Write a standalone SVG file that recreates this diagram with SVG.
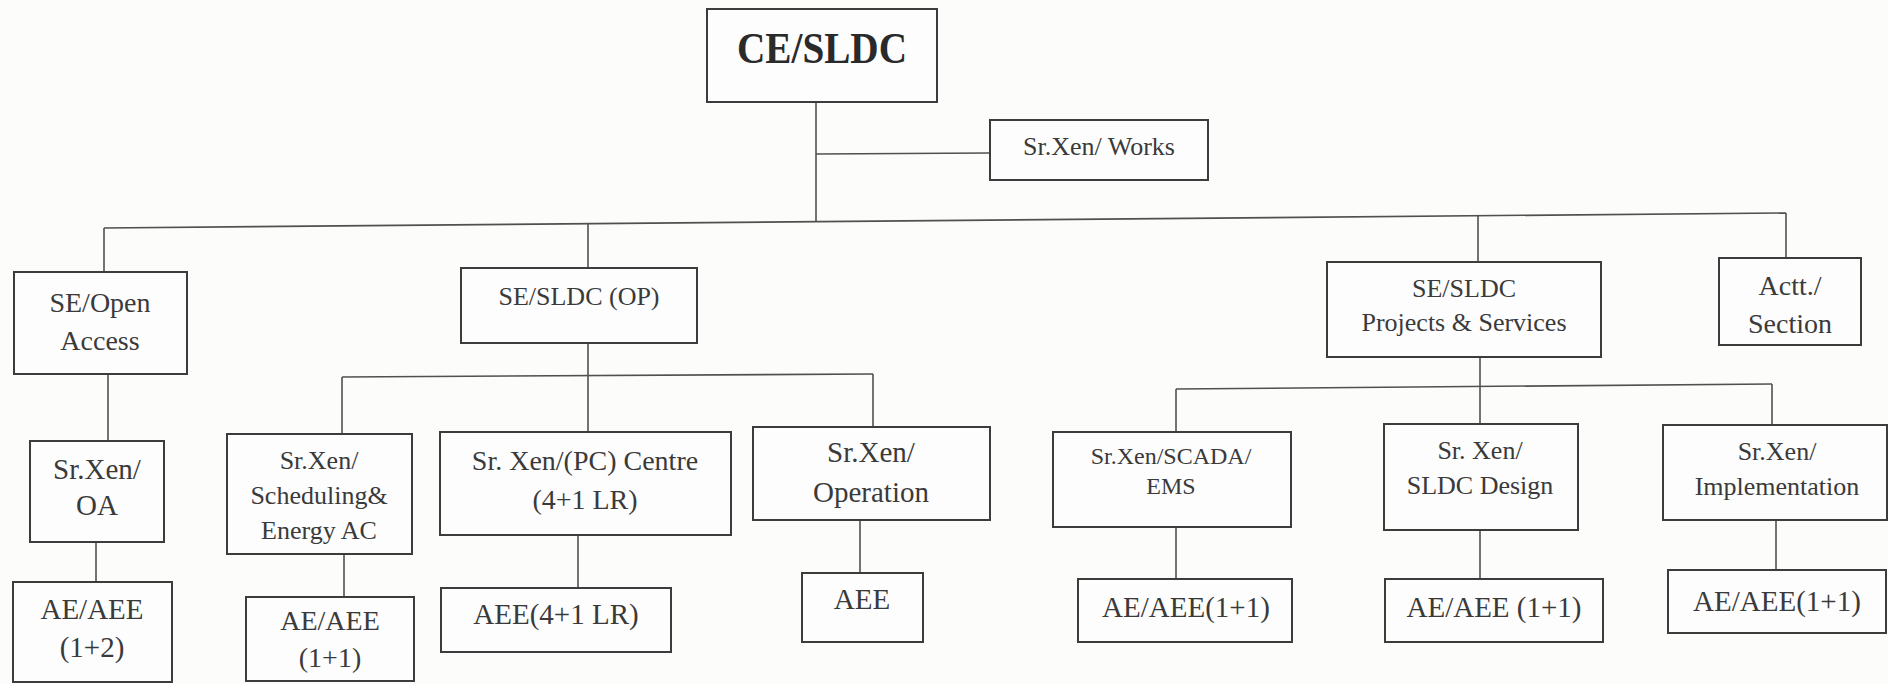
<svg xmlns="http://www.w3.org/2000/svg" width="1888" height="684" viewBox="0 0 1888 684">
<style>
.bg{fill:#fcfcfb}
.box{fill:#fdfdfd;stroke:#3c3c3c;stroke-width:2}
.ln{stroke:#505050;stroke-width:1.6;fill:none}
text{font-family:"Liberation Serif","Times New Roman",serif;fill:#3a3a3a;text-anchor:middle}
.t26{font-size:26px}.t28{font-size:28px}.t29{font-size:29px}.t24{font-size:24px}
.big{font-size:44px;font-weight:bold;fill:#2a2a2a}
</style>
<rect class="bg" x="0" y="0" width="1888" height="684"/>
<g id="connectors">
<line class="ln" x1="816" y1="102" x2="816" y2="222"/>
<line class="ln" x1="816" y1="154" x2="990" y2="153"/>
<line class="ln" x1="104" y1="228" x2="1786" y2="213"/>
<line class="ln" x1="104" y1="228" x2="104" y2="272"/>
<line class="ln" x1="588" y1="223.5" x2="588" y2="268"/>
<line class="ln" x1="1478" y1="215.7" x2="1478" y2="262"/>
<line class="ln" x1="1786" y1="213" x2="1786" y2="258"/>
<line class="ln" x1="108" y1="374" x2="108" y2="441"/>
<line class="ln" x1="96" y1="542" x2="96" y2="582"/>
<line class="ln" x1="588" y1="343" x2="588" y2="432"/>
<line class="ln" x1="342" y1="377" x2="873" y2="374"/>
<line class="ln" x1="342" y1="377" x2="342" y2="434"/>
<line class="ln" x1="873" y1="374" x2="873" y2="427"/>
<line class="ln" x1="344" y1="554" x2="344" y2="597"/>
<line class="ln" x1="578" y1="535" x2="578" y2="588"/>
<line class="ln" x1="860" y1="520" x2="860" y2="573"/>
<line class="ln" x1="1480" y1="357" x2="1480" y2="424"/>
<line class="ln" x1="1176" y1="389" x2="1772" y2="384"/>
<line class="ln" x1="1176" y1="389" x2="1176" y2="432"/>
<line class="ln" x1="1772" y1="384" x2="1772" y2="425"/>
<line class="ln" x1="1176" y1="527" x2="1176" y2="579"/>
<line class="ln" x1="1480" y1="530" x2="1480" y2="579"/>
<line class="ln" x1="1776" y1="520" x2="1776" y2="570"/>
</g>
<g id="ce"><rect class="box" x="707" y="9" width="230" height="93"/><text class="big" x="822" y="63" textLength="170" lengthAdjust="spacingAndGlyphs">CE/SLDC</text></g>
<g id="works"><rect class="box" x="990" y="120" width="218" height="60"/><text class="t26" x="1099" y="155">Sr.Xen/ Works</text></g>
<g id="se-oa"><rect class="box" x="14" y="272" width="173" height="102"/><text class="t28" x="100" y="312">SE/Open</text><text class="t28" x="100" y="350">Access</text></g>
<g id="se-op"><rect class="box" x="461" y="268" width="236" height="75"/><text class="t26" x="579" y="305">SE/SLDC (OP)</text></g>
<g id="se-ps"><rect class="box" x="1327" y="262" width="274" height="95"/><text class="t26" x="1464" y="297">SE/SLDC</text><text class="t26" x="1464" y="331">Projects &amp; Services</text></g>
<g id="actt"><rect class="box" x="1719" y="258" width="142" height="87"/><text class="t28" x="1790" y="295">Actt./</text><text class="t28" x="1790" y="333">Section</text></g>
<g id="xen-oa"><rect class="box" x="30" y="441" width="134" height="101"/><text class="t29" x="97" y="479">Sr.Xen/</text><text class="t29" x="97" y="515">OA</text></g>
<g id="ae-oa"><rect class="box" x="13" y="582" width="159" height="100"/><text class="t29" x="92" y="619">AE/AEE</text><text class="t29" x="92" y="657">(1+2)</text></g>
<g id="xen-sch"><rect class="box" x="227" y="434" width="185" height="120"/><text class="t26" x="319" y="469">Sr.Xen/</text><text class="t26" x="319" y="504">Scheduling&amp;</text><text class="t26" x="319" y="539">Energy AC</text></g>
<g id="ae-sch"><rect class="box" x="246" y="597" width="168" height="84"/><text class="t28" x="330" y="630">AE/AEE</text><text class="t28" x="330" y="667">(1+1)</text></g>
<g id="xen-pc"><rect class="box" x="440" y="432" width="291" height="103"/><text class="t28" x="585" y="470">Sr. Xen/(PC) Centre</text><text class="t28" x="585" y="509">(4+1 LR)</text></g>
<g id="aee-pc"><rect class="box" x="441" y="588" width="230" height="64"/><text class="t29" x="556" y="624">AEE(4+1 LR)</text></g>
<g id="xen-op"><rect class="box" x="753" y="427" width="237" height="93"/><text class="t29" x="871" y="462">Sr.Xen/</text><text class="t29" x="871" y="502">Operation</text></g>
<g id="aee-op"><rect class="box" x="802" y="573" width="121" height="69"/><text class="t29" x="862" y="609">AEE</text></g>
<g id="xen-scada"><rect class="box" x="1053" y="432" width="238" height="95"/><text class="t24" x="1171" y="464">Sr.Xen/SCADA/</text><text class="t24" x="1171" y="494">EMS</text></g>
<g id="ae-scada"><rect class="box" x="1078" y="579" width="214" height="63"/><text class="t29" x="1186" y="617">AE/AEE(1+1)</text></g>
<g id="xen-des"><rect class="box" x="1384" y="424" width="194" height="106"/><text class="t26" x="1480" y="459">Sr. Xen/</text><text class="t26" x="1480" y="494">SLDC Design</text></g>
<g id="ae-des"><rect class="box" x="1385" y="579" width="218" height="63"/><text class="t29" x="1494" y="617">AE/AEE (1+1)</text></g>
<g id="xen-imp"><rect class="box" x="1663" y="425" width="224" height="95"/><text class="t26" x="1777" y="460">Sr.Xen/</text><text class="t26" x="1777" y="495">Implementation</text></g>
<g id="ae-imp"><rect class="box" x="1668" y="570" width="218" height="63"/><text class="t29" x="1777" y="611">AE/AEE(1+1)</text></g>
</svg>
